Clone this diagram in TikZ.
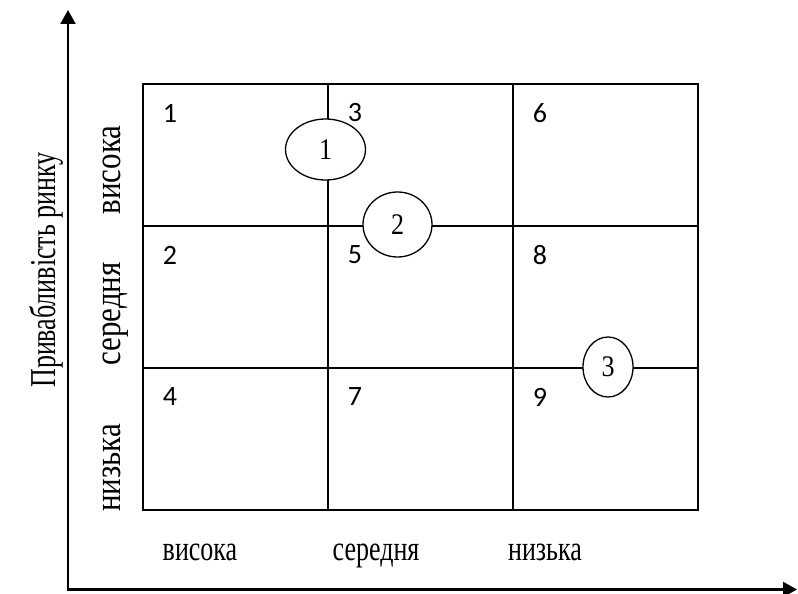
\documentclass[tikz,border=0pt]{standalone}
\usepackage{fontspec}
\setmainfont{Liberation Serif}
\newfontfamily\cellfont{Carlito}
\usetikzlibrary{arrows.meta,shapes.geometric}
% text drawn slightly taller than wide
\newcommand{\tall}[2]{\scalebox{1}[#1]{#2}}
\begin{document}
\begin{tikzpicture}[x=1pt,y=-1pt,
  cell/.style={draw, line width=1.3pt, minimum width=185pt, minimum height=142pt,
    inner sep=0pt, outer sep=0pt, anchor=north west},
  num/.style={font=\cellfont\fontsize{28}{28}\selectfont, inner sep=0pt},
  tag/.style={font=\fontsize{26}{26}\selectfont, inner sep=0pt, anchor=base},
  vtag/.style={font=\fontsize{31}{31}\selectfont, inner sep=0pt, anchor=base, rotate=90},
  title/.style={font=\fontsize{26}{26}\selectfont, inner sep=0pt, anchor=base, rotate=90},
  oval/.style={ellipse, draw, fill=white, line width=1.3pt, inner sep=0pt,
    font=\fontsize{26}{26}\selectfont},
  axis/.style={line width=2.5pt,
    {Triangle[length=14pt,width=15pt]}-{Triangle[length=14pt,width=15pt]}}
]
\useasboundingbox (0,0) rectangle (798,594);

% axes
\coordinate (ytip) at (68,10);
\coordinate (orig) at (68,589.5);
\coordinate (xtip) at (797,589.5);
\draw[axis] (ytip) -- (orig) -- (xtip);

% 3x3 matrix
\node[cell] (c11) at (143,84)  {};
\node[cell] (c12) at (328,84)  {};
\node[cell] (c13) at (513,84)  {};
\node[cell] (c21) at (143,226) {};
\node[cell] (c22) at (328,226) {};
\node[cell] (c23) at (513,226) {};
\node[cell] (c31) at (143,368) {};
\node[cell] (c32) at (328,368) {};
\node[cell] (c33) at (513,368) {};

% cell numbers
\node[num] (n1) at ([shift={(27,29)}]c11.north west) {1};
\node[num] (n3) at ([shift={(27,29)}]c12.north west) {3};
\node[num] (n6) at ([shift={(27,29)}]c13.north west) {6};
\node[num] (n2) at ([shift={(27,29)}]c21.north west) {2};
\node[num] (n5) at ([shift={(27,29)}]c22.north west) {5};
\node[num] (n8) at ([shift={(27,29)}]c23.north west) {8};
\node[num] (n4) at ([shift={(27,29)}]c31.north west) {4};
\node[num] (n7) at ([shift={(27,29)}]c32.north west) {7};
\node[num] (n9) at ([shift={(27,29)}]c33.north west) {9};

% positions of the business units
\node[oval, minimum width=80pt, minimum height=61pt] (e1) at (325.5,149.5) {\tall{1.15}{1}};
\node[oval, minimum width=69pt, minimum height=65pt] (e2) at (397.5,224.5) {\tall{1.15}{2}};
\node[oval, minimum width=50pt, minimum height=60pt] (e3) at (608,367) {\tall{1.15}{3}};

% axis captions
\node[title] (ytitle) at (55,270) {\tall{1.4}{Привабливість ринку}};
\node[vtag] (yhi)  at (120,170) {\tall{1.2}{висока}};
\node[vtag] (ymid) at (120,314) {\tall{1.2}{середня}};
\node[vtag] (ylo)  at (120,468) {\tall{1.2}{низька}};
\node[tag] (xhi)  at (200,560) {\tall{1.35}{висока}};
\node[tag] (xmid) at (376,560) {\tall{1.35}{середня}};
\node[tag] (xlo)  at (545,560) {\tall{1.35}{низька}};
\end{tikzpicture}
\end{document}
